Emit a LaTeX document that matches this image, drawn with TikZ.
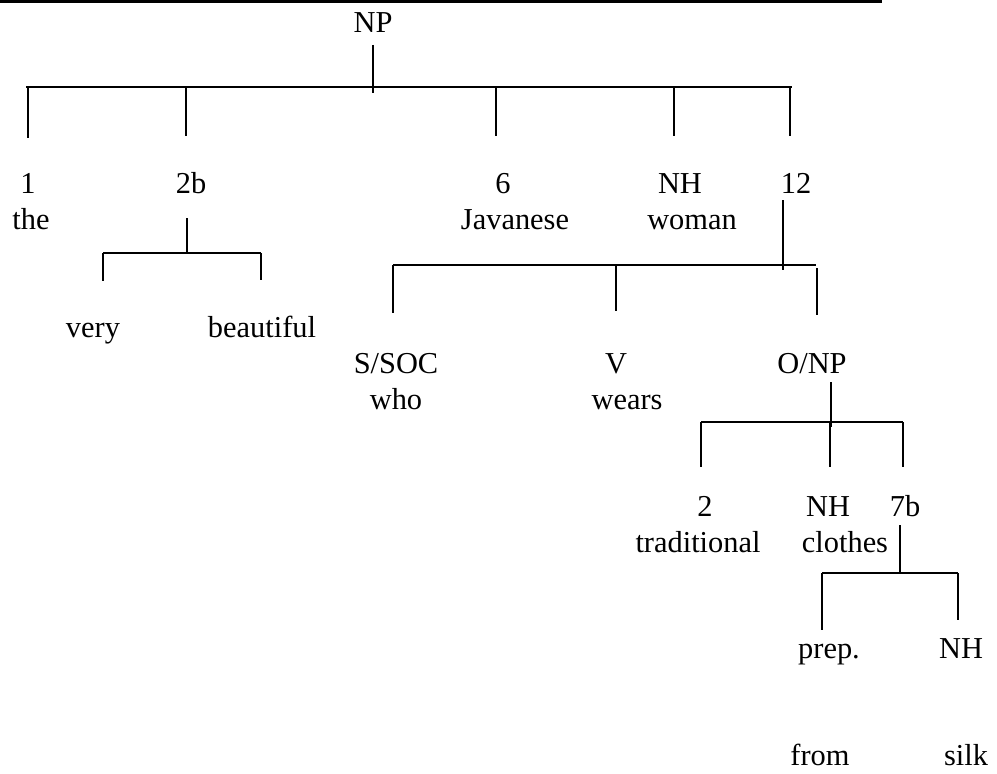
\documentclass[tikz,border=0pt]{standalone}
\usepackage{fontspec}
\setmainfont{Liberation Serif}
\begin{document}
\begin{tikzpicture}[x=0.75pt,y=-0.75pt,
  lbl/.style={anchor=base,inner sep=0pt,font=\fontsize{22.8}{26}\selectfont},
  br/.style={line width=0.8pt},
  topbar/.style={line width=2pt}]
\useasboundingbox (0,0) rectangle (997,774);
% top rule
\coordinate (barL) at (0,1.35); \coordinate (barR) at (882,1.35);
\draw[topbar] (barL) -- (barR);
% labels
\node[lbl] (np) at (373,33) {NP};
\node[lbl] (n1) at (28,193) {1};
\node[lbl] (n2b) at (191,193) {2b};
\node[lbl] (n6) at (503,193) {6};
\node[lbl] (nh1) at (680,193) {NH};
\node[lbl] (n12) at (796,193) {12};
\node[lbl] (the) at (31,229) {the};
\node[lbl] (jav) at (515,229) {Javanese};
\node[lbl] (woman) at (692,229) {woman};
\node[lbl] (very) at (93,337) {very};
\node[lbl] (beau) at (262,337) {beautiful};
\node[lbl] (ssoc) at (396,373) {S/SOC};
\node[lbl] (who) at (396,409) {who};
\node[lbl] (v) at (616,373) {V};
\node[lbl] (wears) at (627,409) {wears};
\node[lbl] (onp) at (812,373) {O/NP};
\node[lbl] (n2) at (705,516) {2};
\node[lbl] (trad) at (698,552) {traditional};
\node[lbl] (nh2) at (828,516) {NH};
\node[lbl] (clothes) at (845,552) {clothes};
\node[lbl] (n7b) at (905,516) {7b};
\node[lbl] (prep) at (829,658) {prep.};
\node[lbl] (nh3) at (961,658) {NH};
\node[lbl] (from) at (820,765) {from};
\node[lbl] (silk) at (966,765) {silk};
% NP bracket
\coordinate (a0) at (373,45); \coordinate (a1) at (373,93);
\coordinate (aL) at (26,87); \coordinate (aR) at (792,87);
\draw[br] (a0) -- (a1);
\draw[br] (aL) -- (aR);
\foreach \x/\e in {28/138,186/136,496/136,674/136,790/136}
  \draw[br] (\x,87) coordinate (t\x) -- (\x,\e) coordinate (d\x);
% 2b bracket
\coordinate (b0) at (187,218); \coordinate (b1) at (187,253);
\coordinate (bL) at (103,253); \coordinate (bR) at (261,253);
\draw[br] (b0) -- (b1);
\draw[br] (bL) -- (bR);
\draw[br] (bL) -- (103,281) coordinate (bLd);
\draw[br] (bR) -- (261,280) coordinate (bRd);
% 12 bracket
\coordinate (c0) at (783,200); \coordinate (c1) at (783,270);
\coordinate (cL) at (393,265); \coordinate (cR) at (816,265);
\draw[br] (c0) -- (c1);
\draw[br] (cL) -- (cR);
\draw[br] (cL) -- (393,313) coordinate (cLd);
\draw[br] (616,265) coordinate (cM) -- (616,311) coordinate (cMd);
\draw[br] (817,268) coordinate (cRt) -- (817,315) coordinate (cRd);
% O/NP bracket
\coordinate (e0) at (831,382); \coordinate (e1) at (831,427);
\coordinate (eL) at (701,422); \coordinate (eR) at (903,422);
\draw[br] (e0) -- (e1);
\draw[br] (eL) -- (eR);
\draw[br] (eL) -- (701,467) coordinate (eLd);
\draw[br] (830,422) coordinate (eM) -- (830,467) coordinate (eMd);
\draw[br] (eR) -- (903,467) coordinate (eRd);
% 7b bracket
\coordinate (f0) at (900,525); \coordinate (f1) at (900,573);
\coordinate (fL) at (822,573); \coordinate (fR) at (958,573);
\draw[br] (f0) -- (f1);
\draw[br] (fL) -- (fR);
\draw[br] (fL) -- (822,630) coordinate (fLd);
\draw[br] (fR) -- (958,620) coordinate (fRd);
\end{tikzpicture}
\end{document}
